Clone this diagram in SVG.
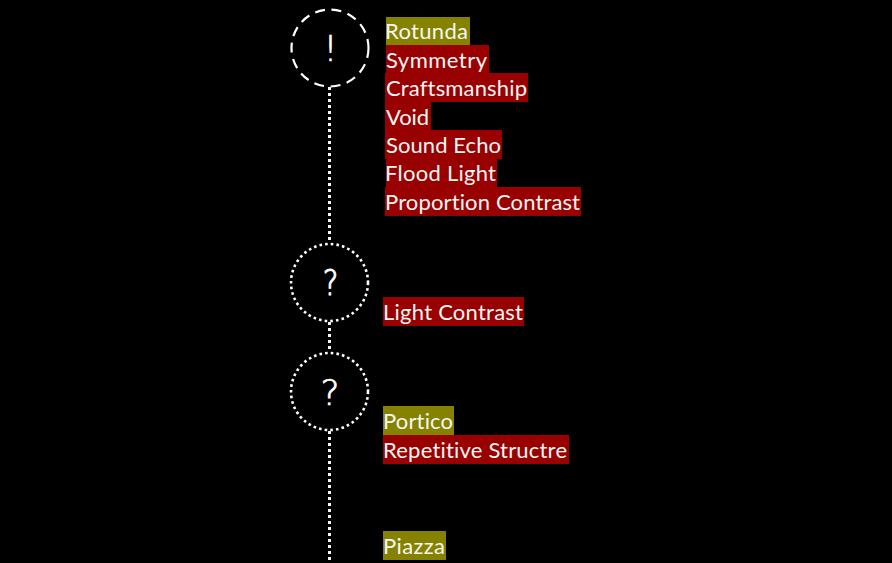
<svg xmlns="http://www.w3.org/2000/svg" width="892" height="563" viewBox="0 0 892 563">
<style>
.bg{fill:#000}
.c{fill:none;stroke:#fff;stroke-width:2.2}
.dash{stroke-dasharray:10 6.6}
.dot{stroke-width:2.6;stroke-dasharray:2.6 3.1}
.conn{fill:none;stroke:#f4f4f4;stroke-width:3;stroke-dasharray:3 3}
.r{fill:#990000}
.g{fill:#858200}
text{font-family:"Lato","Open Sans","Liberation Sans",sans-serif;fill:#fff;font-variant-ligatures:none}
.l{font-size:22px;fill:#f6f6f6}
.m{font-family:"DejaVu Sans",sans-serif;font-size:36px;font-weight:200;text-anchor:middle;stroke:#fff;stroke-width:.7}
</style>
<rect class="bg" width="892" height="563"/>
<g id="connectors">
<path class="conn" d="M329.5 87V243"/>
<path class="conn" d="M329.5 322V352"/>
<path class="conn" d="M329.5 431V563"/>
</g>
<g id="node-1"><circle class="c dash" cx="330" cy="48" r="38.5"/><text class="m" x="330.5" y="61">!</text></g>
<g id="node-2"><circle class="c dot" cx="329.5" cy="282.5" r="38.5"/><text class="m" transform="translate(330.5 295) scale(.82 1)" style="stroke-width:1.1">?</text></g>
<g id="node-3"><circle class="c dot" cx="329.5" cy="391.5" r="38.5"/><text class="m" x="330" y="405">?</text></g>
<g id="label-rotunda"><rect class="g" x="386" y="17" width="84" height="28"/><text class="l" x="385" y="39" textLength="83">Rotunda</text></g>
<g id="label-symmetry"><rect class="r" x="386" y="45" width="103" height="28"/><text class="l" x="386" y="68" textLength="101">Symmetry</text></g>
<g id="label-craftsmanship"><rect class="r" x="385" y="73" width="143" height="29"/><text class="l" x="386" y="96" textLength="141">Craftsmanship</text></g>
<g id="label-void"><rect class="r" x="385" y="102" width="46" height="28"/><text class="l" x="386" y="125" textLength="43">Void</text></g>
<g id="label-sound-echo"><rect class="r" x="385" y="130" width="117" height="29"/><text class="l" x="386" y="153" textLength="115">Sound Echo</text></g>
<g id="label-flood-light"><rect class="r" x="386" y="159" width="111" height="28"/><text class="l" x="385" y="181" textLength="111">Flood Light</text></g>
<g id="label-proportion-contrast"><rect class="r" x="385" y="187" width="196" height="29"/><text class="l" x="385" y="210" textLength="195">Proportion Contrast</text></g>
<g id="label-light-contrast"><rect class="r" x="383" y="297" width="141" height="29"/><text class="l" x="383" y="320" textLength="140">Light Contrast</text></g>
<g id="label-portico"><rect class="g" x="383" y="406" width="71" height="29"/><text class="l" x="383" y="429" textLength="70">Portico</text></g>
<g id="label-repetitive"><rect class="r" x="383" y="435" width="186" height="29"/><text class="l" x="383" y="458" textLength="184">Repetitive Structre</text></g>
<g id="label-piazza"><rect class="g" x="383" y="531" width="63" height="29"/><text class="l" x="383" y="554" textLength="62">Piazza</text></g>
</svg>
